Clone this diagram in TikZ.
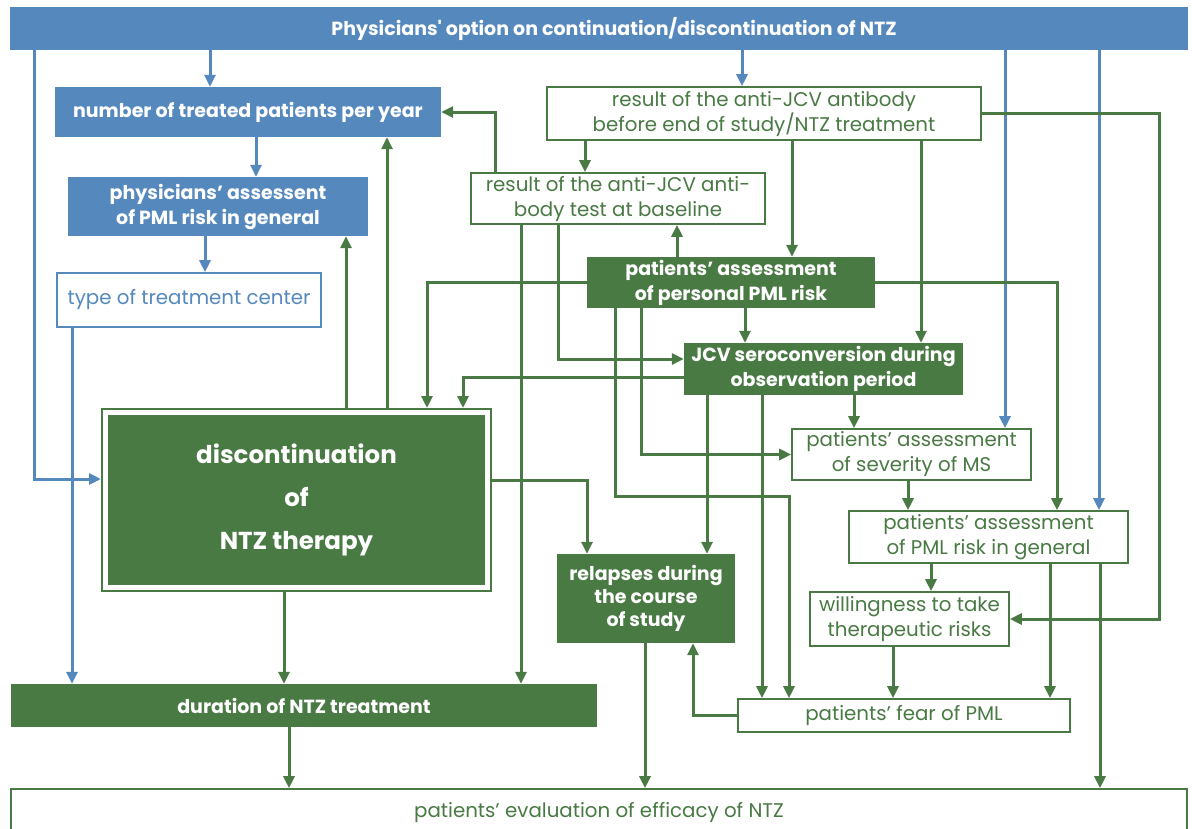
\documentclass[tikz,border=0pt]{standalone}
\usepackage{fontspec}
\setmainfont{Poppins}
\usepackage{tikz}
\usetikzlibrary{arrows.meta,positioning}
\definecolor{blu}{HTML}{5589BD}
\definecolor{grn}{HTML}{497A44}

\begin{document}
\begin{tikzpicture}[x=1pt, y=-1pt, >={Triangle[length=12pt,width=11pt]},
		basebox/.style={rectangle, inner sep=0pt, align=center, font=\fontsize{19.8}{25}\selectfont},
		bluebox/.style={basebox, fill=blu, text=white, font=\fontsize{19}{25}\selectfont\bfseries},
		greenbox/.style={basebox, fill=grn, text=white, font=\fontsize{19}{25}\selectfont\bfseries},
		whitebox/.style={basebox, draw=grn, line width=1.6pt, fill=white, text=grn},
		bluewhite/.style={basebox, draw=blu, line width=1.6pt, fill=white, text=blu},
		garr/.style={->, grn, line width=3pt},
		barr/.style={->, blu, line width=3pt}]
		\useasboundingbox (0,0) rectangle (1192,828);
		
		\node[bluebox, minimum width=1178pt, minimum height=43pt] (phys) at (599,28.5) {\hspace*{30pt}Physicians\textquotesingle\ option on continuation/discontinuation of NTZ};
		
		\node[bluebox, minimum width=386pt, minimum height=50pt] (number) at (248,112) {number of treated patients per year};
		
		\node[bluebox, minimum width=300pt, minimum height=59pt] (physass) at (218,206.5) {physicians’ assessent\\of PML risk in general};
		
		\node[bluewhite, minimum width=264pt, minimum height=54pt] (tcenter) at (189,300) {type of treatment center};
		
		\node[whitebox, minimum width=434pt, minimum height=53pt] (antiend) at (764,113.5) {result of the anti-JCV antibody\\before end of study/NTZ treatment};
		
		\node[whitebox, minimum width=294pt, minimum height=51pt] (antibase) at (618,198.5) {result of the anti-JCV anti-\\body test at baseline};
		
		\node[greenbox, minimum width=288pt, minimum height=51pt] (persrisk) at (731,282.5) {patients’ assessment\\of personal PML risk};
		
		\node[greenbox, minimum width=279pt, minimum height=52pt] (serocon) at (823.5,369) {JCV seroconversion during\\observation period};
		
		\node[greenbox, draw=grn, double=white, double distance=5pt, line width=2pt, outer sep=4.5pt, minimum width=382pt, minimum height=175pt, font=\fontsize{24.5}{43}\selectfont\bfseries] (discont) at (296.5,500) {discontinuation\\of\\NTZ therapy};
		
		\node[whitebox, minimum width=239pt, minimum height=51pt] (severity) at (911.5,454.5) {patients’ assessment\\of severity of MS};
		
		\node[whitebox, minimum width=279pt, minimum height=52pt] (pmlgen) at (988.5,537) {patients’ assessment\\of PML risk in general};
		
		\node[greenbox, minimum width=178pt, minimum height=89pt, font=\fontsize{19}{23}\selectfont\bfseries] (relapses) at (646,598.5) {relapses during\\the course\\of study};
		
		\node[whitebox, minimum width=199pt, minimum height=54pt] (willing) at (909.5,619) {willingness to take\\therapeutic risks};
		
		\node[greenbox, minimum width=586pt, minimum height=43pt] (duration) at (304,705.5) {duration of NTZ treatment};
		
		\node[whitebox, minimum width=332pt, minimum height=33pt] (fear) at (904,715.5) {patients’ fear of PML};
		
		\node[whitebox, minimum width=1176pt, minimum height=46pt] (efficacy) at (599,812) {patients’ evaluation of efficacy of NTZ};
		
		\draw[barr] (phys.south -| 210,0) -- (number.north -| 210,0);
		\draw[barr] (phys.south -| 742,0) -- (antiend.north -| 742,0);
		\draw[barr] (phys.south -| 34,0) |- (discont.west |- 0,479);
		\draw[barr] (phys.south -| 1005,0) -- (severity.north -| 1005,0);
		\draw[barr] (phys.south -| 1099,0) -- (pmlgen.north -| 1099,0);
		\draw[barr] (number.south -| 256,0) -- (physass.north -| 256,0);
		\draw[barr] (physass.south -| 205,0) -- (tcenter.north -| 205,0);
		\draw[barr] (tcenter.south -| 72,0) -- (duration.north -| 72,0);
		
		\draw[garr] (antibase.north -| 495,0) |- (number.east);
		\draw[garr] (discont.north -| 387,0) -- (number.south -| 387,0);
		\draw[garr] (discont.north -| 346,0) -- (physass.south -| 346,0);
		\draw[garr] (antiend.south -| 585,0) -- (antibase.north -| 585,0);
		\draw[garr] (antiend.south -| 792,0) -- (persrisk.north -| 792,0);
		\draw[garr] (antiend.south -| 921,0) -- (serocon.north -| 921,0);
		\draw[garr] (antiend.east) -- (antiend.east -| 1159,0) |- (willing.east);
		\draw[garr] (persrisk.north -| 677,0) -- (antibase.south -| 677,0);
		\draw[garr] (persrisk.west) -| (discont.north -| 427,0);
		\draw[garr] (persrisk.south -| 745,0) -- (serocon.north -| 745,0);
		\draw[garr] (persrisk.east) -| (pmlgen.north -| 1057,0);
		\draw[garr] (persrisk.south -| 641,0) |- (severity.west);
		\draw[garr] (persrisk.south -| 615,0) -- (615,496) -| (fear.north -| 789,0);
		\draw[garr] (antibase.south -| 521,0) -- (duration.north -| 521,0);
		\draw[garr] (antibase.south -| 558,0) |- (serocon.west |- 0,359);
		\draw[garr] (serocon.west |- 0,377) -| (discont.north -| 463,0);
		\draw[garr] (serocon.south -| 854,0) -- (severity.north -| 854,0);
		\draw[garr] (serocon.south -| 707,0) -- (relapses.north -| 707,0);
		\draw[garr] (serocon.south -| 762,0) -- (fear.north -| 762,0);
		\draw[garr] (discont.east |- 0,480) -| (relapses.north -| 587,0);
		\draw[garr] (discont.south -| 284,0) -- (duration.north -| 284,0);
		\draw[garr] (severity.south -| 908,0) -- (pmlgen.north -| 908,0);
		\draw[garr] (pmlgen.south -| 931,0) -- (willing.north -| 931,0);
		\draw[garr] (pmlgen.south -| 1050,0) -- (fear.north -| 1050,0);
		\draw[garr] (pmlgen.south -| 1100,0) -- (efficacy.north -| 1100,0);
		\draw[garr] (willing.south -| 893,0) -- (fear.north -| 893,0);
		\draw[garr] (fear.west) -| (relapses.south -| 693,0);
		\draw[garr] (relapses.south -| 645,0) -- (efficacy.north -| 645,0);
		\draw[garr] (duration.south -| 289,0) -- (efficacy.north -| 289,0);
\end{tikzpicture}
\end{document}
